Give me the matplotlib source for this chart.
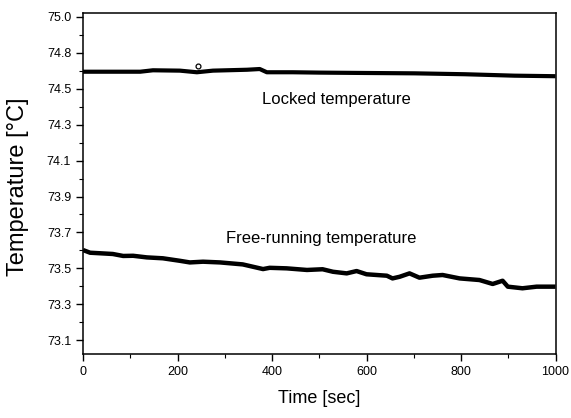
import matplotlib.pyplot as plt
from matplotlib.ticker import FixedLocator, FixedFormatter, MultipleLocator

plt.rcParams['font.family'] = ['Liberation Sans', 'DejaVu Sans']

# -- data --
locked_t = [0, 63, 121, 148, 205, 241, 275, 347, 374, 389, 444, 501, 596, 702, 808, 913, 1000]
locked_T = [74.645, 74.645, 74.645, 74.653, 74.651, 74.642, 74.651, 74.656, 74.660,
            74.642, 74.642, 74.640, 74.638, 74.636, 74.631, 74.623, 74.620]

# single open circle above the locked trace
spike_t = [244]
spike_T = [74.679]

free_t = [0, 15, 36, 63, 85, 106, 135, 169, 205, 226, 254, 290, 338, 381, 395, 431, 474,
          507, 529, 558, 579, 600, 643, 655, 670, 691, 712, 740, 761, 797, 839, 867, 888,
          899, 930, 960, 1000]
free_T = [73.652, 73.637, 73.634, 73.630, 73.619, 73.620, 73.611, 73.606, 73.592, 73.583,
          73.587, 73.583, 73.572, 73.546, 73.553, 73.550, 73.541, 73.545, 73.531, 73.522,
          73.535, 73.517, 73.509, 73.494, 73.503, 73.522, 73.498, 73.509, 73.513, 73.494,
          73.485, 73.463, 73.481, 73.448, 73.439, 73.448, 73.448]

# tick positions and the (odd) labels printed on the original axis
ytick_pos = [74.95, 74.75, 74.55, 74.35, 74.15, 73.95, 73.75, 73.55, 73.35, 73.15]
ytick_lab = ["75.0", "74.8", "74.5", "74.3", "74.1", "73.9", "73.7", "73.5", "73.3", "73.1"]
xticks = [0, 200, 400, 600, 800, 1000]

fig = plt.figure(figsize=(5.71, 4.18), dpi=100)
ax = fig.add_axes([0.1454, 0.1531, 0.8275, 0.8158])

ax.plot(locked_t, locked_T, color='black', lw=3.0, solid_capstyle='butt')
ax.plot(free_t, free_T, color='black', lw=3.2, solid_capstyle='butt')
ax.plot(spike_t, spike_T, 'o', mfc='white', mec='black', ms=3.5, mew=0.9)

ax.text(537, 74.488, "Locked temperature", ha='center', va='center', fontsize=12)
ax.text(505, 73.719, "Free-running temperature", ha='center', va='center', fontsize=12)

ax.set_xlim(0, 1000)
ax.set_ylim(73.073, 74.972)

ax.set_xticks(xticks)
ax.xaxis.set_minor_locator(MultipleLocator(100))
ax.yaxis.set_major_locator(FixedLocator(ytick_pos))
ax.yaxis.set_major_formatter(FixedFormatter(ytick_lab))
ax.yaxis.set_minor_locator(FixedLocator([p + 0.1 for p in ytick_pos]))

ax.tick_params(which='major', direction='out', length=5, width=1.0, labelsize=9)
ax.tick_params(which='minor', direction='out', length=3, width=0.8)
for s in ax.spines.values():
    s.set_linewidth(1.1)

ax.set_xlabel("Time [sec]", fontsize=13)
ax.set_ylabel("Temperature [\u00b0C]", fontsize=17)
ax.xaxis.set_label_coords(0.5, -0.105)
ax.yaxis.set_label_coords(-0.115, 0.49)

plt.savefig("out.png", dpi=100)
